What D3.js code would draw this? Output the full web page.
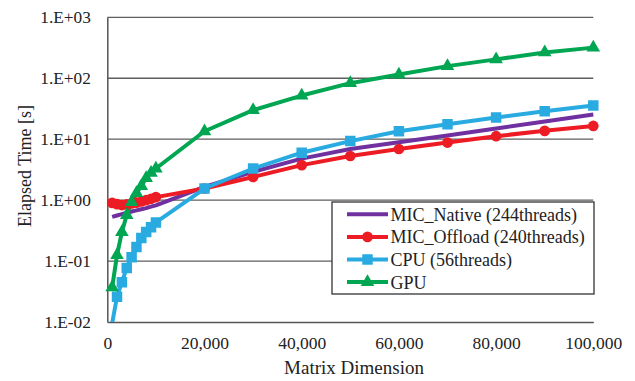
<!DOCTYPE html>
<html><head><meta charset="utf-8">
<script src="https://cdn.jsdelivr.net/npm/d3@7"></script>
<style>body{margin:0;background:#fff}svg{display:block}text{font-family:"Liberation Serif","Times New Roman",serif;fill:#222}</style>
</head><body><svg id="c" width="635" height="381"></svg>
<script>
const xSmall = [1000,2000,3000,4000,5000,6000,7000,8000,9000,10000];
const xLarge = [20000,30000,40000,50000,60000,70000,80000,90000,100000];
const xValues = xSmall.concat(xLarge);
const micNative  = [0.53,0.56,0.59,0.62,0.65,0.68,0.71,0.74,0.78,0.82, 1.65,2.9,4.8,6.9,8.9,11.5,15.0,19.5,25.4];
const micOffload = [0.9,0.86,0.83,0.85,0.88,0.91,0.95,1.0,1.05,1.12, 1.55,2.4,3.75,5.3,6.9,8.8,11.2,13.7,16.5];
const cpu        = [0.0095,0.026,0.045,0.077,0.116,0.17,0.24,0.3,0.36,0.43, 1.55,3.3,6.0,9.3,13.5,17.6,22.7,28.8,35.7];
const gpu        = [0.037,0.125,0.3,0.57,0.93,1.3,1.7,2.3,2.8,3.3, 13.5,30,52,83,115,158,204,265,318];
const seriesNames = ["MIC_Native (244threads)","MIC_Offload (240threads)","CPU (56threads)","GPU"];
const xTicks = [0,20000,40000,60000,80000,100000];
const yTicks = [1e-2,1e-1,1e0,1e1,1e2,1e3];
const yTickLabels = ["1.E-02","1.E-01","1.E+00","1.E+01","1.E+02","1.E+03"];

const series = [
  {name: seriesNames[0], values: micNative, color: "#7030A0", marker: "none"},
  {name: seriesNames[1], values: micOffload, color: "#ED1C24", marker: "circle"},
  {name: seriesNames[2], values: cpu, color: "#29ABE2", marker: "square"},
  {name: seriesNames[3], values: gpu, color: "#00A651", marker: "triangle"}
];

const svg = d3.select("#c");
const L = 107.3, R = 593.3, T = 17.3, B = 322;
const x = d3.scaleLinear().domain([0,100000]).range([L,R]);
const y = d3.scaleLog().domain([1e-2,1e3]).range([B,T]);

svg.append("defs").append("clipPath").attr("id","clip")
  .append("rect").attr("x",L-10).attr("y",T-10).attr("width",R-L+20).attr("height",B-T+10);

// gridlines
svg.append("g").selectAll("line").data(yTicks.slice(1)).join("line")
  .attr("x1",L).attr("x2",R).attr("y1",d=>y(d)).attr("y2",d=>y(d))
  .attr("stroke","#5e5e5e").attr("stroke-width",1.3);

// axes
const yAxis = svg.append("g").attr("transform",`translate(${L},0)`)
  .call(d3.axisLeft(y).tickValues(yTicks).tickFormat((d,i)=>yTickLabels[i]).tickSize(0).tickPadding(16.5));
yAxis.select(".domain").attr("stroke","#555").attr("stroke-width",1.5);
yAxis.selectAll("text").style("font-size","17.3px").attr("fill","#222");

const xAxis = svg.append("g").attr("transform",`translate(0,${B})`)
  .call(d3.axisBottom(x).tickValues(xTicks).tickFormat(d3.format(",")).tickSize(0).tickPadding(15));
xAxis.select(".domain").attr("stroke","#555").attr("stroke-width",1.5);
xAxis.selectAll("text").style("font-size","17.5px").attr("fill","#222");

// titles
svg.append("text").attr("x",354).attr("y",374).attr("text-anchor","middle").style("font-size","19px").text("Matrix Dimension");
svg.append("text").attr("transform","translate(31,166) rotate(-90)").attr("text-anchor","middle").style("font-size","18px").text("Elapsed Time [s]");

// lines
const line = d3.line().x((d,i)=>x(xValues[i])).y(d=>y(d));
const plot = svg.append("g").attr("clip-path","url(#clip)");
const sym = {circle: d3.symbolCircle, square: d3.symbolSquare, triangle: d3.symbolTriangle};
const symSize = {circle: 90, square: 110, triangle: 80};
function drawMarker(g, type, color, cx, cy){
  if(type==="none") return;
  g.append("path").attr("d", d3.symbol().type(sym[type]).size(symSize[type])())
   .attr("transform",`translate(${cx},${cy})`).attr("fill",color);
}
series.forEach(s=>{
  plot.append("path").datum(s.values).attr("d",line).attr("fill","none")
    .attr("stroke",s.color).attr("stroke-width",4).attr("stroke-linejoin","round");
});
series.forEach(s=>{
  s.values.forEach((v,i)=>{
    const cy = y(v);
    if (cy <= B) drawMarker(plot, s.marker, s.color, x(xValues[i]), cy);
  });
});

// legend
const lg = svg.append("g");
lg.append("rect").attr("x",332).attr("y",202).attr("width",262).attr("height",92)
  .attr("fill","#fff").attr("stroke","#333").attr("stroke-width",1.3);
series.forEach((s,i)=>{
  const ly = 214.3 + i*22.6;
  lg.append("line").attr("x1",347).attr("x2",388).attr("y1",ly).attr("y2",ly)
    .attr("stroke",s.color).attr("stroke-width",4);
  drawMarker(lg, s.marker, s.color, 367.5, ly);
  lg.append("text").attr("x",390.5).attr("y",ly+6.5).style("font-size","18px").text(s.name);
});
</script></body></html>
